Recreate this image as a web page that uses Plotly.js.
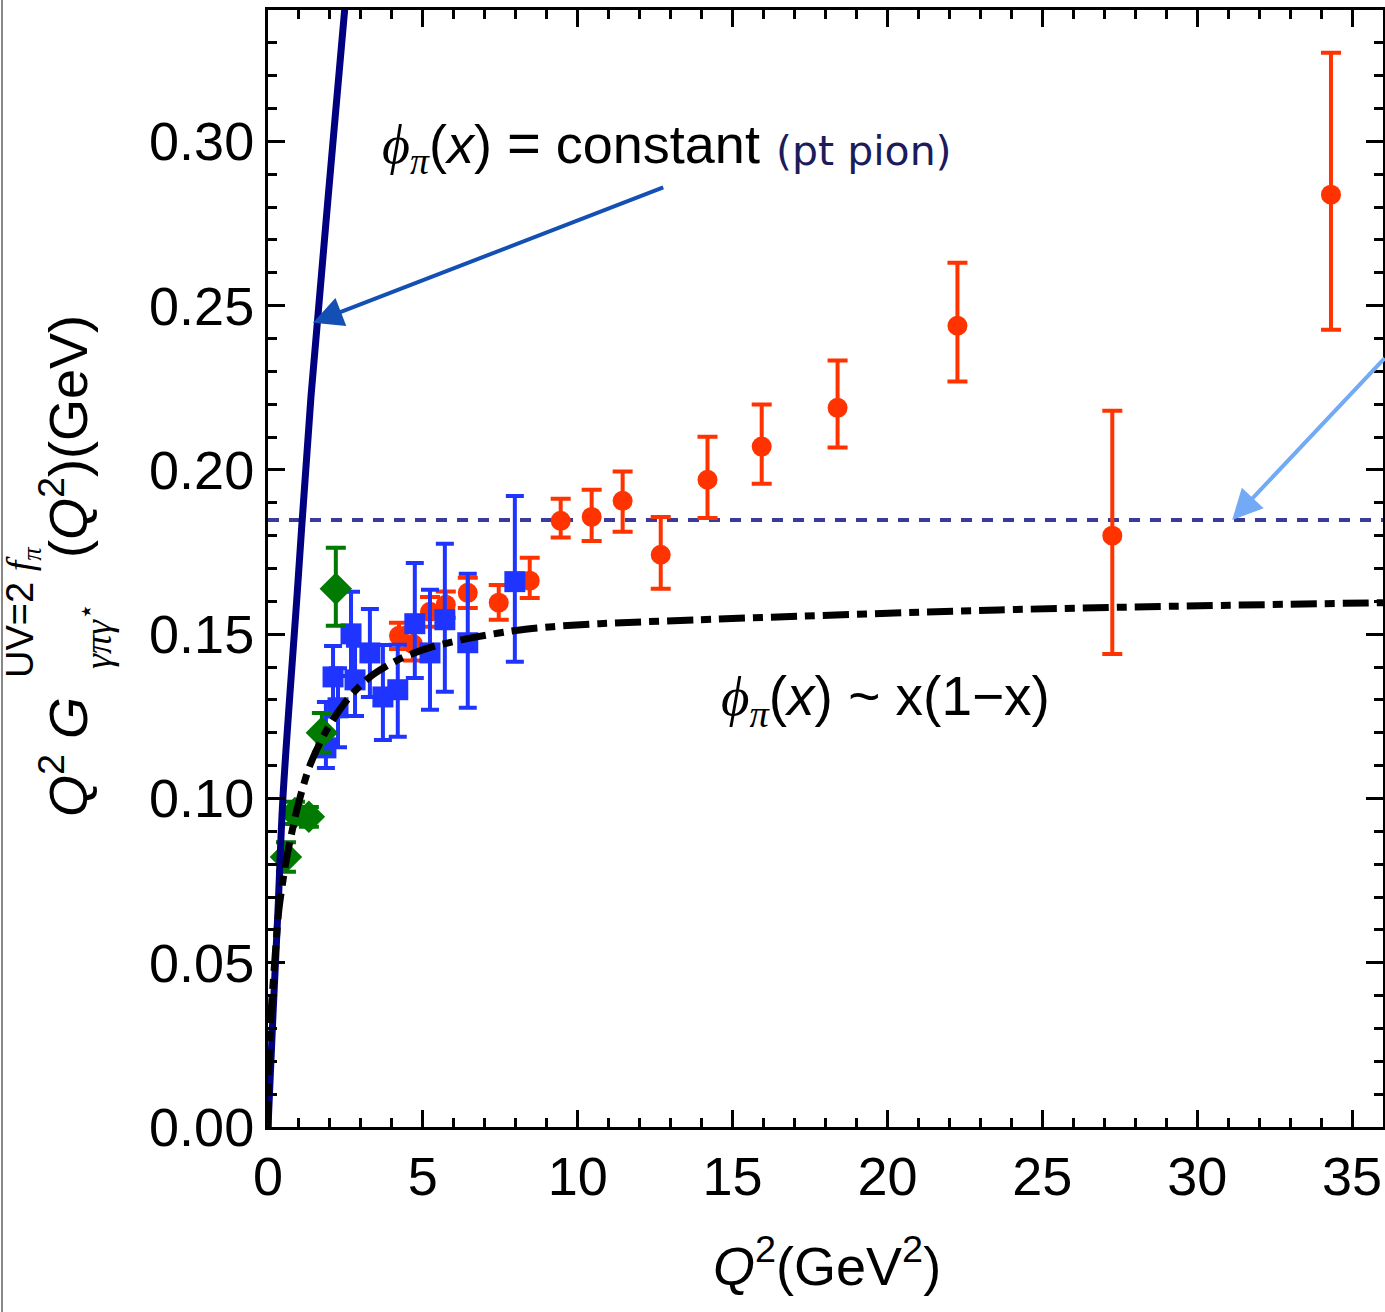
<!DOCTYPE html>
<html>
<head>
<meta charset="utf-8">
<script src="https://cdn.plot.ly/plotly-3.0.1.min.js"></script>
<style>
  html, body { margin: 0; padding: 0; background: #ffffff; }
  #chart { width: 1385px; height: 1312px; }
</style>
</head>
<body>
<div id="chart"></div>
<script>
// ---------- data ----------
// BaBar-like points (red circles)
const redQ2 = [4.23, 4.68, 5.23, 5.74, 6.45, 7.45, 8.45, 9.45, 10.45, 11.45, 12.68, 14.19, 15.94, 18.39, 22.26, 27.26, 34.32];
const redVal = [0.1495, 0.1470, 0.1568, 0.1590, 0.1626, 0.1596, 0.1663, 0.1845, 0.1857, 0.1906, 0.1742, 0.1970, 0.2071, 0.2189, 0.2439, 0.1800, 0.2838];
const redErrUp = [0.0040, 0.0050, 0.0045, 0.0040, 0.0046, 0.0054, 0.0070, 0.0067, 0.0083, 0.0089, 0.0115, 0.0131, 0.0128, 0.0144, 0.0192, 0.0380, 0.0432];
const redErrDown = [0.0040, 0.0050, 0.0045, 0.0040, 0.0046, 0.0052, 0.0053, 0.0051, 0.0073, 0.0094, 0.0104, 0.0116, 0.0113, 0.0121, 0.0170, 0.0360, 0.0411];

// CLEO-like points (blue squares)
const blueQ2 = [1.87, 2.10, 2.26, 2.68, 2.81, 3.29, 3.71, 4.19, 4.74, 5.23, 5.71, 6.45, 7.97];
const blueVal = [0.1154, 0.1370, 0.1276, 0.1501, 0.1361, 0.1443, 0.1309, 0.1331, 0.1532, 0.1443, 0.1544, 0.1474, 0.1660];
const blueErrUp = [0.0140, 0.0094, 0.0120, 0.0128, 0.0104, 0.0134, 0.0158, 0.0137, 0.0185, 0.0192, 0.0231, 0.0210, 0.0261];
const blueErrDown = [0.0061, 0.0120, 0.0120, 0.0128, 0.0110, 0.0134, 0.0131, 0.0143, 0.0165, 0.0173, 0.0219, 0.0198, 0.0244];

// CELLO-like points (green diamonds)
const greenQ2 = [0.58, 0.87, 1.32, 1.74, 2.19];
const greenVal = [0.0822, 0.0956, 0.0944, 0.1200, 0.1638];
const greenErrUp = [0.0045, 0.0034, 0.0030, 0.0060, 0.0125];
const greenErrDown = [0.0045, 0.0034, 0.0030, 0.0060, 0.0112];

// phi(x) = constant curve (navy solid)
const ptQ2 = [0, 0.16, 0.323, 0.484, 0.935, 1.387, 1.935, 2.484, 2.55];
const ptVal = [0, 0.034, 0.0661, 0.1005, 0.1614, 0.2223, 0.2823, 0.3410, 0.3480];

// phi(x) ~ x(1-x) curve (black dash-dot)
const asQ2 = [0, 0.03, 0.1, 0.2, 0.35, 0.55, 0.71, 0.97, 1.35, 1.90, 2.55, 3.29, 4.26, 5.32, 6.74, 8.13, 9.19, 10.7, 13.9, 23.6, 36];
const asVal = [0, 0.020, 0.035, 0.048, 0.0660, 0.0790, 0.0870, 0.0980, 0.1100, 0.1209, 0.1300, 0.1370, 0.1425, 0.1462, 0.1492, 0.1513, 0.1523, 0.1532, 0.1544, 0.1574, 0.1596];

// asymptotic limit 2 f_pi (dotted horizontal)
const limitQ2 = [0, 36];
const limitVal = [0.1848, 0.1848];

const xTickVals = [0, 5, 10, 15, 20, 25, 30, 35];
const xTickText = ['0', '5', '10', '15', '20', '25', '30', '35'];
const yTickVals = [0.00, 0.05, 0.10, 0.15, 0.20, 0.25, 0.30];
const yTickText = ['0.00', '0.05', '0.10', '0.15', '0.20', '0.25', '0.30'];

// ---------- drawing ----------
const W = 1385, H = 1312;
const M = {l: 268, r: 2, t: 10, b: 185};
const px = v => (v - M.l) / (W - M.l - M.r);
const py = v => (H - M.b - v) / (H - M.t - M.b);

const RED = '#ff3300', BLUE = '#1f35ff', GREEN = '#007a00';

const traces = [
  {
    x: limitQ2, y: limitVal, mode: 'lines', hoverinfo: 'skip',
    line: {color: '#3a3a9a', width: 4, dash: '11px,10px'}
  },
  {
    x: redQ2, y: redVal, mode: 'markers', type: 'scatter',
    marker: {symbol: 'circle', size: 20, color: RED},
    error_y: {type: 'data', symmetric: false, array: redErrUp, arrayminus: redErrDown,
              color: RED, thickness: 4, width: 10}
  },
  {
    x: blueQ2, y: blueVal, mode: 'markers', type: 'scatter',
    marker: {symbol: 'square', size: 21, color: BLUE},
    error_y: {type: 'data', symmetric: false, array: blueErrUp, arrayminus: blueErrDown,
              color: BLUE, thickness: 4, width: 9}
  },
  {
    x: greenQ2, y: greenVal, mode: 'markers', type: 'scatter',
    marker: {symbol: 'diamond', size: 25, color: GREEN},
    error_y: {type: 'data', symmetric: false, array: greenErrUp, arrayminus: greenErrDown,
              color: GREEN, thickness: 4, width: 10}
  },
  {
    x: ptQ2, y: ptVal, mode: 'lines', line: {color: '#000080', width: 7, shape: 'spline'}
  },
  {
    x: asQ2, y: asVal, mode: 'lines',
    line: {color: '#000000', width: 7, dash: '26px,8px,10px,8px', shape: 'spline', smoothing: 0.8}
  }
];

const sans = 'Liberation Sans, Arial, Helvetica, sans-serif';

const annotations = [
  // text labels
  {x: 3.6, y: 0.2985, xref: 'x', yref: 'y', xanchor: 'left', yanchor: 'middle', showarrow: false,
   text: '<span style="font-family:Liberation Serif"><i>ϕ</i><sub><i>π</i></sub></span>(<i>x</i>) <span style="font-size:58px">=</span> constant',
   font: {family: sans, size: 54, color: '#000'}},
  {x: 16.35, y: 0.2970, xref: 'x', yref: 'y', xanchor: 'left', yanchor: 'middle', showarrow: false,
   text: '(pt pion)', font: {family: 'DejaVu Sans, sans-serif', size: 41, color: '#1c1c5c'}},
  {x: 14.55, y: 0.1300, xref: 'x', yref: 'y', xanchor: 'left', yanchor: 'middle', showarrow: false,
   text: '<span style="font-family:Liberation Serif"><i>ϕ</i><sub><i>π</i></sub></span>(<i>x</i>) ~ x(1−x)',
   font: {family: sans, size: 55, color: '#000'}},
  // arrows
  {x: 1.45, y: 0.2448, ax: 12.81, ay: 0.2862, xref: 'x', yref: 'y', axref: 'x', ayref: 'y',
   text: '', showarrow: true, arrowhead: 2, arrowsize: 1.5, arrowwidth: 4, arrowcolor: '#1450b4'},
  {x: 31.13, y: 0.1848, ax: 36.1, ay: 0.2345, xref: 'x', yref: 'y', axref: 'x', ayref: 'y',
   text: '', showarrow: true, arrowhead: 2, arrowsize: 1.5, arrowwidth: 4, arrowcolor: '#73aaf5'},
  // y-axis title pieces (rotated)
  {x: px(64), y: py(757), xref: 'paper', yref: 'paper', xanchor: 'center', yanchor: 'middle', showarrow: false,
   textangle: -90, text: '<i>Q</i><sup>2</sup> <i>G</i>', font: {family: sans, size: 54, color: '#000'}},
  {x: px(23), y: py(613), xref: 'paper', yref: 'paper', xanchor: 'center', yanchor: 'middle', showarrow: false,
   textangle: -90, text: 'UV=2 <span style="font-family:Liberation Serif"><i>f</i><sub><i>π</i></sub></span>',
   font: {family: sans, size: 38, color: '#000'}},
  {x: px(95), y: py(636), xref: 'paper', yref: 'paper', xanchor: 'center', yanchor: 'middle', showarrow: false,
   textangle: -90, text: '<span style="font-family:Liberation Serif"><i>γπγ</i></span><sup>⋆</sup>',
   font: {family: sans, size: 38, color: '#000'}},
  {x: px(64), y: py(437), xref: 'paper', yref: 'paper', xanchor: 'center', yanchor: 'middle', showarrow: false,
   textangle: -90, text: '(<i>Q</i><sup>2</sup>)(GeV)', font: {family: sans, size: 54, color: '#000'}},
  // x-axis title
  {x: px(827), y: py(1262), xref: 'paper', yref: 'paper', xanchor: 'center', yanchor: 'middle', showarrow: false,
   text: '<i>Q</i><sup>2</sup>(GeV<sup>2</sup>)', font: {family: sans, size: 54, color: '#000'}}
];

const axisCommon = {
  showgrid: false, zeroline: false, showline: true, linecolor: '#000', linewidth: 3,
  mirror: 'ticks', ticks: 'inside', ticklen: 17, tickwidth: 3, tickcolor: '#000',
  tickfont: {family: sans, size: 54, color: '#000'}, fixedrange: true
};

const layout = {
  width: W, height: H,
  margin: M,
  paper_bgcolor: '#ffffff', plot_bgcolor: '#ffffff',
  showlegend: false,
  xaxis: Object.assign({}, axisCommon, {
    range: [0, 36], tickmode: 'array', tickvals: xTickVals, ticktext: xTickText,
    minor: {dtick: 1, ticklen: 9, tickwidth: 3, tickcolor: '#000', ticks: 'inside'}
  }),
  yaxis: Object.assign({}, axisCommon, {
    range: [0, 0.34], tickmode: 'array', tickvals: yTickVals, ticktext: yTickText,
    minor: {dtick: 0.01, ticklen: 9, tickwidth: 3, tickcolor: '#000', ticks: 'inside'}
  }),
  annotations: annotations,
  shapes: [
    {type: 'line', xref: 'paper', yref: 'paper', x0: px(2), x1: px(2), y0: py(0), y1: py(H),
     line: {color: '#888888', width: 2}}
  ]
};

Plotly.newPlot('chart', traces, layout, {displayModeBar: false, staticPlot: true});
</script>
</body>
</html>
